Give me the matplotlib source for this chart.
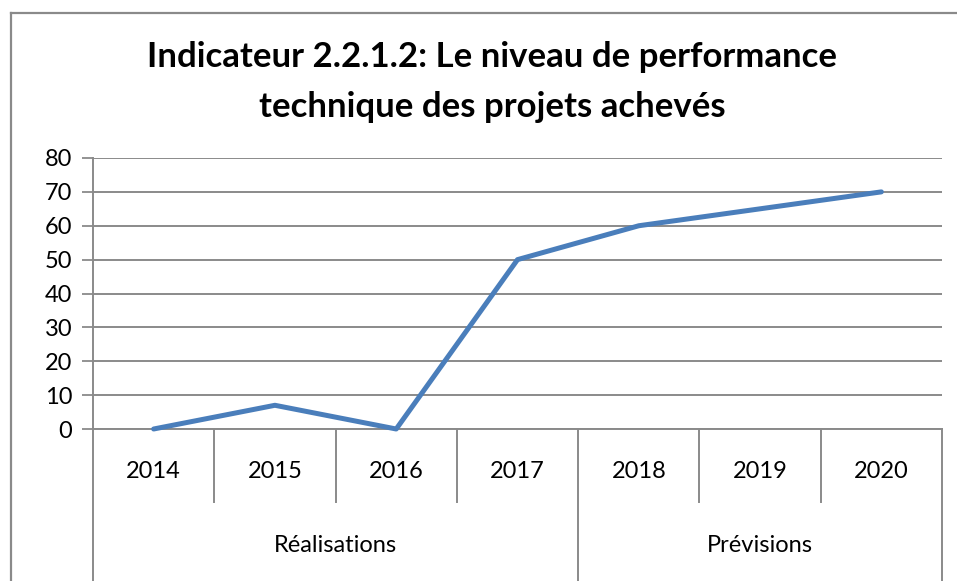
import matplotlib
matplotlib.use("Agg")
import matplotlib.pyplot as plt
from matplotlib.transforms import blended_transform_factory
from matplotlib.lines import Line2D

years = ["2014", "2015", "2016", "2017", "2018", "2019", "2020"]
values = [0, 7, 0, 50, 60, 65, 70]
groups = ["Réalisations", "Prévisions"]
group_sizes = [4, 3]
title_lines = ["Indicateur 2.2.1.2: Le niveau de performance",
               "technique des projets achevés"]
yticks = [0, 10, 20, 30, 40, 50, 60, 70, 80]

W, H = 957, 581
fig = plt.figure(figsize=(W / 100, H / 100), dpi=100)
FONT = "Lato"
GRAY = "#8a8a8a"
FS = 17

# axes placement in pixels
x0, x1, yb, yt = 93, 942, 429, 158
ax = fig.add_axes([x0 / W, 1 - yb / H, (x1 - x0) / W, (yb - yt) / H])

xs = list(range(len(years)))
ax.plot(xs, values, color="#4A7EBB", lw=3.6, solid_capstyle="round",
        solid_joinstyle="round", zorder=3, clip_on=False)

ax.set_xlim(-0.5, len(years) - 0.5)
ax.set_ylim(0, 80)
ax.set_yticks(yticks)
ax.set_yticklabels([str(v) for v in yticks], fontsize=FS, family=FONT)
ax.tick_params(axis="y", length=8, width=1.3, color=GRAY, pad=7)
ax.set_xticks([])
ax.yaxis.grid(True, color=GRAY, lw=1.4)
ax.set_axisbelow(True)
for s in ["top", "right"]:
    ax.spines[s].set_visible(False)
for s in ["left", "bottom"]:
    ax.spines[s].set_color(GRAY)
    ax.spines[s].set_linewidth(1.4)

axh = yb - yt
trans = blended_transform_factory(ax.transData, ax.transAxes)

def yf(py):
    return (yb - py) / axh

group_bounds = [-0.5]
acc = -0.5
for g in group_sizes:
    acc += g
    group_bounds.append(acc)
for k in range(1, len(years)):
    b = k - 0.5
    if b in group_bounds:
        continue
    ax.add_line(Line2D([b, b], [0, yf(502)], transform=trans, color=GRAY,
                       lw=1.4, clip_on=False))
for b in group_bounds:
    ax.add_line(Line2D([b, b], [0, yf(590)], transform=trans, color=GRAY,
                       lw=1.4, clip_on=False))

for i, y in enumerate(years):
    ax.text(i, yf(471), y, transform=trans, ha="center", va="center",
            fontsize=FS, family=FONT)
start = 0
for g, n in zip(groups, group_sizes):
    c = start + (n - 1) / 2
    ax.text(c, yf(546), g, transform=trans, ha="center", va="center",
            fontsize=FS, family=FONT)
    start += n

for line, py in zip(title_lines, [57, 107]):
    fig.text(492 / W, 1 - py / H, line, ha="center", va="center",
             fontsize=25, fontweight="bold", family=FONT)

# chart area border (left and top)
fig.add_artist(Line2D([11 / W, 11 / W], [0, 1 - 13 / H], transform=fig.transFigure,
                      color=GRAY, lw=1.6))
fig.add_artist(Line2D([11 / W, 1], [1 - 13 / H, 1 - 13 / H], transform=fig.transFigure,
                      color=GRAY, lw=1.6))

fig.savefig("out.png", dpi=100)
